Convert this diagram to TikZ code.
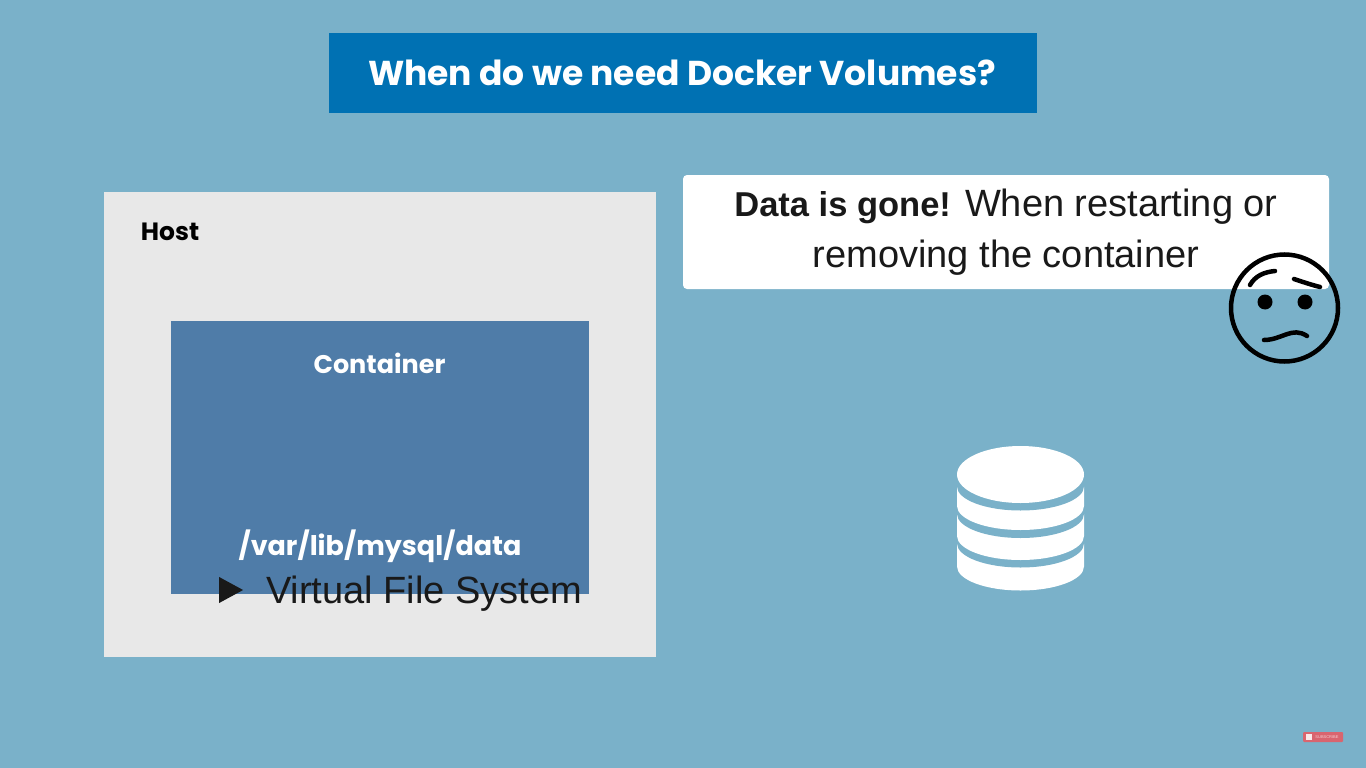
\documentclass[tikz,border=0pt]{standalone}
\usetikzlibrary{shapes.geometric}
\usepackage{fontspec}
\setmainfont{Liberation Sans}
\newfontfamily\headfont{Poppins}
\definecolor{backblue}{HTML}{7AB1C9}
\definecolor{titleblue}{HTML}{0071B3}
\definecolor{hostgrey}{HTML}{E8E8E8}
\definecolor{containerblue}{HTML}{4F7CA8}
\definecolor{subred}{HTML}{D9656F}
\tikzset{
	panel/.style={shape=rectangle,inner sep=0pt,outer sep=0pt},
	headtext/.style={inner sep=0pt,font=\headfont\bfseries},
	bodytext/.style={inner sep=0pt,text=black!90},
	faceline/.style={draw=black,line width=4.5pt,line cap=round},
	eye/.style={shape=circle,fill=black,inner sep=0pt,minimum size=15pt}
}
\begin{document}
\begin{tikzpicture}[x=1pt,y=-1pt]
	\node[panel,anchor=north west,fill=backblue,minimum width=1366pt,minimum height=768pt] (back) at (0,0) {};
	\useasboundingbox (back.north west) rectangle (back.south east);

	\node[panel,fill=titleblue,minimum width=708pt,minimum height=80pt] (titlebox) at (683,73) {};
	\node[headtext,text=white,font=\headfont\bfseries\fontsize{34.5}{34.5}\selectfont] (title) at (682,73) {When do we need Docker Volumes?};

	\node[panel,fill=hostgrey,minimum width=552pt,minimum height=465pt] (host) at (380,424.5) {};
	\node[headtext,text=black,font=\headfont\bfseries\fontsize{25}{25}\selectfont] (hostlabel) at (170,232) {Host};
	\node[panel,fill=containerblue,minimum width=418pt,minimum height=273pt] (container) at (380,457.5) {};
	\node[headtext,text=white,font=\headfont\bfseries\fontsize{25.5}{25.5}\selectfont] (containerlabel) at (379.5,363) {Container};
	\node[headtext,text=white,font=\headfont\bfseries\fontsize{27}{27}\selectfont] (pathlabel) at (380,546) {/var/lib/mysql/data};

	\node[shape=isosceles triangle,isosceles triangle apex angle=57,fill=black!90,inner sep=0pt,minimum height=24pt,anchor=apex] (bullet) at (243.5,590) {};
	\node[bodytext,anchor=base west,font=\fontsize{38}{38}\selectfont] (vfs) at (266,603) {Virtual File System};

	\node[panel,fill=white,rounded corners=4pt,minimum width=646pt,minimum height=114pt] (msgbox) at (1006,232) {};
	\node[bodytext,anchor=base,font=\fontsize{38}{38}\selectfont] (msgone) at (1006,216) {{\bfseries\fontsize{34.5}{34.5}\selectfont Data is gone!} When restarting or};
	\node[bodytext,anchor=base,font=\fontsize{38}{38}\selectfont] (msgtwo) at (1006,267) {removing the container};

	% database
	\foreach \tiertop/\tierbase in {543.5/566.5,514/536,486.5/506}{
		\fill[white] (957,\tiertop) -- (957,\tierbase) arc[start angle=180,end angle=0,x radius=63.5,y radius=24] -- (1084,\tiertop) -- cycle;
		\fill[backblue] (1020.5,\tiertop) ellipse[x radius=63.5,y radius=24];
	}
	\fill[white] (1020.5,474.5) ellipse[x radius=63.5,y radius=28.5];

	% face
	\node[shape=circle,draw=black,line width=4.5pt,inner sep=0pt,minimum size=107pt] (face) at (1284.5,308) {};
	\node[eye] (eyeleft) at (1265,302) {};
	\node[eye] (eyeright) at (1305,302) {};
	\draw[faceline] (1250,285) .. controls (1255,276) and (1264,272) .. (1275,271);
	\draw[faceline] (1294,279) .. controls (1303,282) and (1312,285) .. (1320,287);
	\draw[faceline] (1264,340) .. controls (1282,340) and (1292,326) .. (1307,336);

	% subscribe button
	\node[panel,fill=subred,rounded corners=1pt,minimum width=40pt,minimum height=10pt] (subscribe) at (1323,737) {};
	\node[panel,fill=white!85!subred,minimum size=6pt] (subicon) at (1309,737) {};
	\node[inner sep=0pt,text=white!70!subred,font=\fontsize{4}{4}\selectfont] (subtext) at (1327,737) {SUBSCRIBE};
\end{tikzpicture}
\end{document}
